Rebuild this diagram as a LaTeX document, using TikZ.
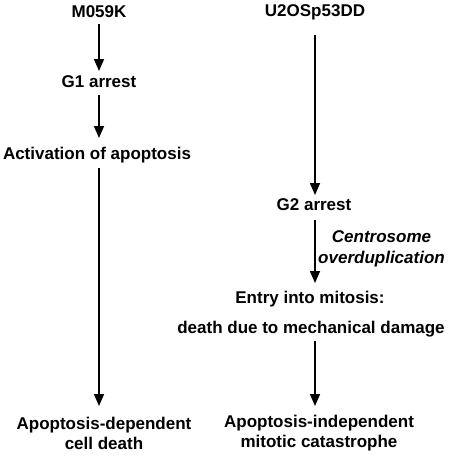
\documentclass[tikz,border=0pt]{standalone}
\usepackage{fontspec}
\setmainfont{Liberation Sans}
\usetikzlibrary{arrows.meta}
\begin{document}
\begin{tikzpicture}[x=1pt,y=-1pt,
  lbl/.style={font=\fontsize{17}{20}\selectfont\bfseries, inner sep=1pt, align=center},
  ital/.style={font=\fontsize{17}{21}\selectfont\bfseries\itshape, inner sep=1pt, align=center},
  arr/.style={line width=1.6pt, -{Triangle[width=10pt,length=12pt]}}]
\useasboundingbox (0,0) rectangle (450,458);
\node[lbl] (m) at (99,12) {M059K};
\node[lbl] (g1) at (99,82) {G1 arrest};
\node[lbl] (act) at (97,155) {Activation of apoptosis};
\node[lbl] (apd) at (104,433) {Apoptosis-dependent\\cell death};
\node[lbl] (u) at (315,12) {U2OSp53DD};
\node[lbl] (g2) at (314,205) {G2 arrest};
\node[ital] (cen) at (381.5,249) {Centrosome\hspace{10pt}\\overduplication};
\node[lbl] (entry) at (310,299) {Entry into mitosis:};
\node[lbl] (death) at (311,329) {death due to mechanical damage};
\node[lbl] (api) at (319,433) {Apoptosis-independent\\mitotic catastrophe};
\coordinate (a1s) at (99,24); \coordinate (a1e) at (99,71);
\coordinate (a2s) at (99,95); \coordinate (a2e) at (99,138);
\coordinate (a3s) at (99,168); \coordinate (a3e) at (99,406);
\coordinate (b1s) at (315,35); \coordinate (b1e) at (315,195);
\coordinate (b2s) at (315,220); \coordinate (b2e) at (315,283);
\coordinate (b3s) at (315,341); \coordinate (b3e) at (315,406);
\draw[arr] (a1s) -- (a1e);
\draw[arr] (a2s) -- (a2e);
\draw[arr] (a3s) -- (a3e);
\draw[arr] (b1s) -- (b1e);
\draw[arr] (b2s) -- (b2e);
\draw[arr] (b3s) -- (b3e);
\end{tikzpicture}
\end{document}
